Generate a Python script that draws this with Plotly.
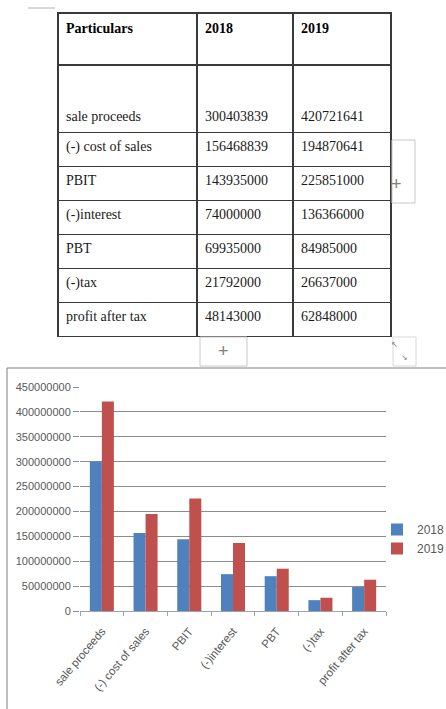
import plotly.graph_objects as go

particulars = ["sale proceeds", "(-) cost of sales", "PBIT", "(-)interest", "PBT", "(-)tax", "profit after tax"]
values_2018 = [300403839, 156468839, 143935000, 74000000, 69935000, 21792000, 48143000]
values_2019 = [420721641, 194870641, 225851000, 136366000, 84985000, 26637000, 62848000]
header_labels = ["Particulars", "2018", "2019"]
series_names = ["2018", "2019"]

W, H = 446, 709

def px(x):
    return x / W

def py(y):
    return 1 - y / H

# table cell text: first row is taller with text at its bottom
pad = "\u00a0<br>\u00a0<br>"
col0 = [pad + particulars[0]] + particulars[1:]
col1 = [pad + str(values_2018[0])] + [str(v) for v in values_2018[1:]]
col2 = [pad + str(values_2019[0])] + [str(v) for v in values_2019[1:]]

fig = go.Figure()

fig.add_trace(go.Table(
    domain=dict(x=[px(58), px(391)], y=[py(345), py(13)]),
    columnwidth=[139, 96, 98],
    header=dict(
        values=["<b>%s</b>" % h for h in header_labels],
        align="left",
        height=52,
        fill_color="white",
        line=dict(color="#3a3a3a", width=1.5),
        font=dict(family="Liberation Serif", size=14, color="black"),
    ),
    cells=dict(
        values=[col0, col1, col2],
        align="left",
        height=34,
        fill_color="white",
        line=dict(color="#3a3a3a", width=1.5),
        font=dict(family="Liberation Serif", size=14, color="#1a1a1a"),
    ),
))

colors = ["#4F81BD", "#C0504D"]
for name, vals, c in zip(series_names, [values_2018, values_2019], colors):
    fig.add_trace(go.Bar(
        x=particulars, y=vals, name=name, marker=dict(color=c, line=dict(width=0)),
        xaxis="x", yaxis="y",
    ))

fig.update_layout(
    width=W, height=H,
    margin=dict(l=0, r=0, t=0, b=0, autoexpand=False),
    paper_bgcolor="white",
    plot_bgcolor="white",
    barmode="group",
    bargap=0.45,
    bargroupgap=0,
    font=dict(family="Liberation Sans", size=11, color="#595959"),
    xaxis=dict(
        domain=[px(80), px(386)],
        anchor="y",
        tickangle=-50,
        showgrid=False,
        showline=True, linecolor="#9aa3b0", linewidth=1,
        ticks="outside", ticklen=4, tickcolor="#9aa3b0", tickson="boundaries",
        tickfont=dict(size=11.5, color="#595959"),
        ticklabelstandoff=8,
        automargin=False,
    ),
    yaxis=dict(
        domain=[py(611), py(387)],
        anchor="x",
        range=[0, 450000000],
        dtick=50000000,
        tickformat="d",
        showgrid=True, gridcolor="#8c8c8c", gridwidth=1,
        zeroline=False,
        showline=False,
        ticks="outside", ticklen=6, tickcolor="#8c8c8c",
        tickfont=dict(size=11, color="#595959"),
        automargin=False,
    ),
    legend=dict(
        x=px(377), y=py(515), xanchor="left", yanchor="top",
        font=dict(size=12, color="#595959"),
        bgcolor="rgba(0,0,0,0)",
        itemwidth=30,
        tracegroupgap=8,
    ),
    shapes=[
        # chart border
        dict(type="rect", xref="paper", yref="paper", x0=px(7), x1=px(450), y0=py(715), y1=py(368),
             line=dict(color="#7f7f7f", width=1), layer="below"),
        # Word UI: right "+" handle
        dict(type="rect", xref="paper", yref="paper", x0=px(392), x1=px(415), y0=py(203), y1=py(140),
             line=dict(color="#c8c8c8", width=1)),
        # Word UI: bottom "+" handle
        dict(type="rect", xref="paper", yref="paper", x0=px(200), x1=px(247), y0=py(366), y1=py(337),
             line=dict(color="#c8c8c8", width=1), fillcolor="white"),
        # Word UI: resize handle
        dict(type="rect", xref="paper", yref="paper", x0=px(393), x1=px(416), y0=py(366), y1=py(337),
             line=dict(color="#d8d8d8", width=1), fillcolor="white"),
        # small line at top-left
        dict(type="line", xref="paper", yref="paper", x0=px(28), x1=px(55), y0=py(8), y1=py(8),
             line=dict(color="#b0b0b0", width=1)),
    ],
    annotations=[
        dict(text="+", x=px(403.5), y=py(172), xref="paper", yref="paper", showarrow=False,
             font=dict(size=18, color="#808080", family="Liberation Sans")),
        dict(text="+", x=px(223.5), y=py(351), xref="paper", yref="paper", showarrow=False,
             font=dict(size=18, color="#808080", family="Liberation Sans")),
        dict(text="↖", x=px(400), y=py(344), xref="paper", yref="paper", showarrow=False,
             font=dict(size=8, color="#808080")),
        dict(text="↘", x=px(410), y=py(357), xref="paper", yref="paper", showarrow=False,
             font=dict(size=8, color="#808080")),
    ],
)

fig.write_html("out.html")
